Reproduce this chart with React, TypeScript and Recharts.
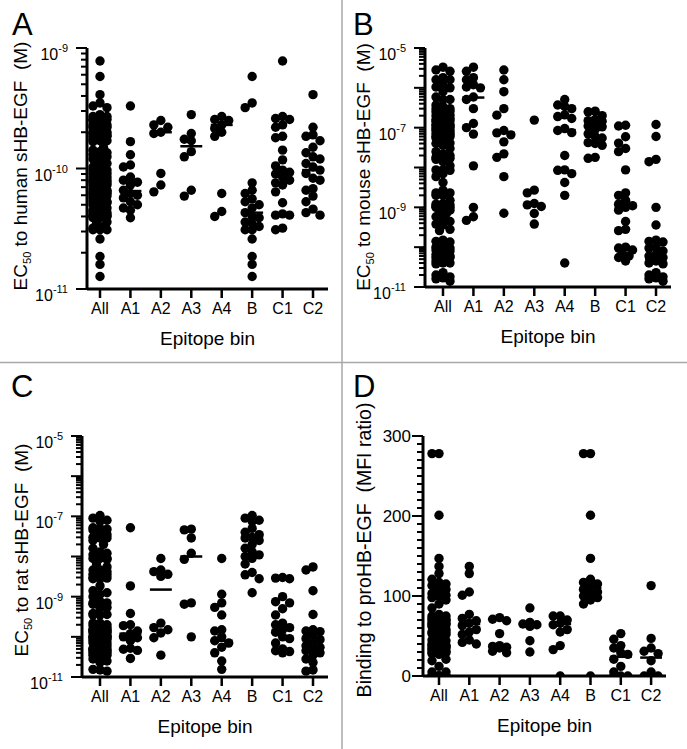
import React from 'react';
import { ScatterChart, Scatter, XAxis, YAxis, ReferenceLine } from 'recharts';

const FONT = '"Liberation Sans", Arial, Helvetica, sans-serif';

const categories = ['All', 'A1', 'A2', 'A3', 'A4', 'B', 'C1', 'C2'];

// ---------- Panel A: EC50 to human sHB-EGF (M) ----------
const humanA1 = [3.3e-10, 1.67e-10, 1.3e-10, 1.07e-10, 1.03e-10, 8.5e-11, 8.0e-11, 7.7e-11, 7.3e-11, 6.6e-11, 6.2e-11, 6.0e-11, 5.7e-11, 5.3e-11, 5.0e-11, 4.7e-11, 4.5e-11, 3.9e-11];
const humanA2 = [2.5e-10, 2.3e-10, 2.2e-10, 2.0e-10, 1.95e-10, 9.1e-11, 7.3e-11, 6.4e-11];
const humanA3 = [2.8e-10, 1.95e-10, 1.75e-10, 1.7e-10, 1.38e-10, 1.25e-10, 6.6e-11, 5.9e-11];
const humanA4 = [2.7e-10, 2.55e-10, 2.5e-10, 2.3e-10, 2.15e-10, 2.0e-10, 1.85e-10, 6.2e-11, 4.4e-11, 4.0e-11];
const humanB = [5.8e-10, 3.5e-10, 3.2e-10, 7.6e-11, 6.6e-11, 6.2e-11, 5.6e-11, 5.3e-11, 5.0e-11, 4.7e-11, 4.3e-11, 4.0e-11, 3.9e-11, 3.6e-11, 3.5e-11, 3.3e-11, 3.1e-11, 3.1e-11, 2.6e-11, 1.86e-11, 1.6e-11, 1.27e-11];
const humanC1 = [7.8e-10, 2.7e-10, 2.6e-10, 2.55e-10, 2.3e-10, 2.2e-10, 1.85e-10, 1.8e-10, 1.42e-10, 1.18e-10, 1.05e-10, 9.7e-11, 9.3e-11, 9.0e-11, 8.5e-11, 8.0e-11, 7.6e-11, 7.3e-11, 6.4e-11, 5.2e-11, 4.2e-11, 4.1e-11, 4.1e-11, 3.2e-11, 3.1e-11];
const humanC2 = [4.1e-10, 2.2e-10, 1.9e-10, 1.85e-10, 1.7e-10, 1.5e-10, 1.35e-10, 1.25e-10, 1.2e-10, 1.1e-10, 1.03e-10, 9.7e-11, 9.1e-11, 8.3e-11, 8.0e-11, 6.8e-11, 6.6e-11, 5.9e-11, 5.3e-11, 4.6e-11, 4.3e-11, 4.1e-11];
const humanMedians = [9.8e-11, 6.5e-11, 2.0e-10, 1.53e-10, 2.3e-10, 4.3e-11, 9.0e-11, 9.7e-11];

// ---------- Panel B: EC50 to mouse sHB-EGF (M) ----------
const mouseA1 = [3.3e-6, 2.6e-6, 1.8e-6, 1.6e-6, 1.2e-6, 1.05e-6, 1.0e-6, 5.9e-7, 5.1e-7, 3.0e-7, 1.27e-7, 1.0e-7, 6.9e-8, 1.1e-8, 1.0e-9, 5.8e-10, 4.7e-10];
const mouseA2 = [2.8e-6, 1.6e-6, 8e-7, 3.0e-7, 2.06e-7, 8.5e-8, 7.4e-8, 6.6e-8, 4.4e-8, 2.2e-8, 1.8e-8, 5.9e-9, 7.1e-10];
const mouseA3 = [1.55e-7, 2.7e-9, 2.3e-9, 1.25e-9, 1.15e-9, 1.05e-9, 7e-10, 3.8e-10];
const mouseA4 = [5.1e-7, 3.7e-7, 3.4e-7, 3.0e-7, 2.1e-7, 1.9e-7, 1.7e-7, 9.5e-8, 8.5e-8, 7.5e-8, 2.0e-8, 8.7e-9, 8.5e-9, 7e-9, 4.2e-9, 2.0e-9, 4e-11];
const mouseB = [2.6e-7, 2.5e-7, 2.0e-7, 1.6e-7, 1.5e-7, 1.45e-7, 1.2e-7, 1.1e-7, 1.05e-7, 9e-8, 7e-8, 6e-8, 5.5e-8, 4.2e-8, 4e-8, 3.6e-8, 1.8e-8, 1.7e-8];
const mouseC1 = [1.15e-7, 1.1e-7, 5.9e-8, 4.1e-8, 3.0e-8, 2.5e-8, 8.7e-9, 2.3e-9, 2.0e-9, 1.5e-9, 1.2e-9, 1.1e-9, 1.0e-9, 8.5e-10, 4.4e-10, 2.8e-10, 2.6e-10, 1.0e-10, 9.5e-11, 8.5e-11, 7e-11, 6e-11, 5.5e-11, 4.5e-11];
const mouseC2 = [1.2e-7, 6e-8, 1.6e-8, 1.4e-8, 1.0e-9, 3.6e-10, 1.5e-10, 1.4e-10, 1.35e-10, 1.0e-10, 9.5e-11, 8e-11, 6.5e-11, 6e-11, 5.5e-11, 4.5e-11, 4e-11, 3.8e-11, 2.3e-11, 2e-11, 1.8e-11, 1.7e-11, 1.6e-11, 1.4e-11];
const mouseMedians = [2e-8, 5.7e-7, 7.4e-8, 1.1e-9, 8.7e-8, 1.1e-7, 1.0e-9, 5e-11];

// ---------- Panel C: EC50 to rat sHB-EGF (M) ----------
const ratA1 = [5.2e-8, 1.85e-9, 3.8e-10, 2.0e-10, 1.9e-10, 1.4e-10, 1.2e-10, 1.0e-10, 9.5e-11, 8e-11, 5.2e-11, 4.9e-11, 4.6e-11, 2.9e-11];
const ratA2 = [8.9e-9, 4.6e-9, 4.2e-9, 3.6e-9, 3.2e-9, 2.2e-10, 1.7e-10, 1.5e-10, 1.25e-10, 9.5e-11, 3.5e-11];
const ratA3 = [4.8e-8, 4.6e-8, 2.9e-8, 1.2e-8, 8.5e-9, 7e-10, 6.5e-10, 1e-10];
const ratA4 = [8.9e-9, 1.15e-9, 7e-10, 5.4e-10, 3.5e-10, 1.5e-10, 1.4e-10, 1.0e-10, 8e-11, 7e-11, 5.5e-11, 4e-11, 2.5e-11, 1.55e-11];
const ratB = [1.05e-7, 9e-8, 8e-8, 7.5e-8, 5e-8, 4e-8, 3.5e-8, 3e-8, 2.9e-8, 2.5e-8, 2e-8, 1.6e-8, 1.3e-8, 1.1e-8, 1e-8, 9e-9, 6.5e-9, 4e-9, 3.5e-9, 2.8e-9, 1.25e-9];
const ratC1 = [3e-9, 2.9e-9, 2.8e-9, 1e-9, 7.5e-10, 7e-10, 5e-10, 3.5e-10, 2.2e-10, 2e-10, 1.7e-10, 1.5e-10, 1.3e-10, 1e-10, 9e-11, 7e-11, 5e-11, 4.5e-11, 4.3e-11, 4e-11];
const ratC2 = [5.5e-9, 4.6e-9, 1.4e-9, 3.6e-10, 1.5e-10, 1.4e-10, 1.35e-10, 1.1e-10, 9e-11, 8.5e-11, 7e-11, 6e-11, 5.5e-11, 5e-11, 4.5e-11, 4e-11, 3.5e-11, 2.8e-11, 2.3e-11, 1.5e-11, 1.4e-11];
const ratMedians = [1.5e-10, 1.2e-10, 1.5e-9, 1.0e-8, 8e-11, 2.9e-8, 1.5e-10, 5.6e-11];

// ---------- Panel D: Binding to proHB-EGF (MFI ratio) ----------
const proA1 = [137, 128, 105, 101, 77, 72, 69, 66, 63, 58, 55, 52, 45, 42, 40];
const proA2 = [73, 71, 69, 53, 38, 37, 36, 35, 31, 29];
const proA3 = [85, 67, 65, 64, 62, 44, 30];
const proA4 = [75, 75, 70, 66, 64, 58, 55, 38, 33, 0];
const proB = [278, 278, 201, 147, 121, 117, 115, 112, 108, 105, 103, 100, 98, 95, 90, 0];
const proC1 = [53, 46, 38, 35, 29, 27, 21, 12, 5, 0, 0, 0];
const proC2 = [113, 47, 35, 31, 28, 19, 5, 0, 0, 0];
const proMedians = [60, 65, 38, 64, 65, 110, 24, 23];

// ---------- layout helpers ----------
const dec = (e: number) => Number(`1e${e}`);

function logTicks(minExp: number, maxExp: number): number[] {
  const t: number[] = [];
  for (let e = minExp; e < maxExp; e++) {
    for (let m = 1; m <= 9; m++) t.push(Number((m * dec(e)).toPrecision(6)));
  }
  t.push(dec(maxExp));
  return t;
}

function linTicks(max: number, step: number): number[] {
  const t: number[] = [];
  for (let v = 0; v <= max; v += step) t.push(v);
  return t;
}

type PanelCfg = {
  box: { left: number; top: number; w: number; h: number };
  plot: { left: number; right: number; top: number; bottom: number };
  firstCat: number;
  catStep: number;
  log: boolean;
  yDomain: [number, number];
  ticks: number[];
  isMajor: (v: number) => boolean;
  isLabeled: (v: number) => boolean;
  bins: number[][];
  medians: number[];
};

function isDecade(v: number) {
  const l = Math.log10(v);
  return Math.abs(l - Math.round(l)) < 1e-6;
}

// same mapping as the chart's y scale (domain -> plot pixels, page coordinates)
function makeToPx(cfg: PanelCfg) {
  const [yMin, yMax] = cfg.yDomain;
  const { plot } = cfg;
  const h = plot.bottom - plot.top;
  return (v: number) =>
    cfg.log
      ? plot.top + ((Math.log10(yMax) - Math.log10(v)) / (Math.log10(yMax) - Math.log10(yMin))) * h
      : plot.top + ((yMax - v) / (yMax - yMin)) * h;
}

const R = 4.7;
const OFFSETS = [0, -7, 7, -3.5, 3.5];

function swarm(values: number[], toPx: (v: number) => number): number[] {
  const idx = values.map((_, i) => i).sort((a, b) => toPx(values[a]) - toPx(values[b]));
  const placed: { x: number; y: number }[] = [];
  const dx = new Array(values.length).fill(0);
  const minD = 7;
  for (const i of idx) {
    const y = toPx(values[i]);
    let best = OFFSETS[0];
    let bestPen = Infinity;
    for (const o of OFFSETS) {
      let pen = 0;
      for (const p of placed) {
        const d = Math.hypot(p.x - o, p.y - y);
        if (d < minD) pen += minD - d;
      }
      if (pen === 0) {
        best = o;
        bestPen = 0;
        break;
      }
      if (pen < bestPen - 1e-9) {
        bestPen = pen;
        best = o;
      }
    }
    dx[i] = best;
    placed.push({ x: best, y });
  }
  return dx;
}

const Dot = (props: any) => {
  const { cx, cy, payload } = props;
  if (cx == null || cy == null) return null;
  return <circle cx={cx + (payload?.dx || 0)} cy={cy} r={R} fill="#000" />;
};

const XTick = (props: any) => {
  const x = Number(props.x);
  const y = Number(props.y);
  const { payload } = props;
  return (
    <text x={x} y={y + 25} textAnchor="middle" fontSize={16} fill="#000" fontFamily={FONT}>
      {categories[payload.value]}
    </text>
  );
};

const CATS = [0, 1, 2, 3, 4, 5, 6, 7];

function Panel({ cfg }: { cfg: PanelCfg }) {
  const { box, plot } = cfg;
  const toPx = makeToPx(cfg);

  const columns = [cfg.bins.flat(), ...cfg.bins];
  const rows: { x: number; y: number; dx: number }[] = [];
  columns.forEach((vals, ci) => {
    const dx = swarm(vals, toPx);
    vals.forEach((v, i) => rows.push({ x: ci, y: v, dx: dx[i] }));
  });

  const xMin = (plot.left - cfg.firstCat) / cfg.catStep;
  const xMax = (plot.right - cfg.firstCat) / cfg.catStep;
  const xAxisH = 60;
  const yAxisW = plot.left - box.left;
  const margin = {
    top: plot.top - box.top,
    right: box.left + box.w - plot.right,
    bottom: box.top + box.h - plot.bottom - xAxisH,
    left: 0,
  };

  const YTick = (props: any) => {
    const x = Number(props.x);
    const y = Number(props.y);
    const v = props.payload.value;
    if (!cfg.isLabeled(v)) return <g />;
    if (cfg.log) {
      const e = Math.round(Math.log10(v));
      return (
        <text x={x - 19} y={y + 12} textAnchor="end" fontSize={16} fill="#000" fontFamily={FONT}>
          10
          <tspan dy={-8} fontSize={11}>{String(e)}</tspan>
        </text>
      );
    }
    return (
      <text x={x - 12} y={y + 6} textAnchor="end" fontSize={17} fill="#000" fontFamily={FONT}>
        {String(v)}
      </text>
    );
  };

  const axisStyle = { stroke: '#000', strokeWidth: 3 };

  return (
    <div style={{ position: 'absolute', left: box.left, top: box.top, width: box.w, height: box.h }}>
      <ScatterChart width={box.w} height={box.h} margin={margin} style={{ fontFamily: FONT }}>
        <XAxis
          type="number"
          dataKey="x"
          domain={[xMin, xMax]}
          allowDataOverflow
          ticks={CATS}
          interval={0}
          height={xAxisH}
          tickSize={0}
          tickMargin={0}
          tickLine={false}
          axisLine={axisStyle}
          tick={(p: any) => <XTick {...p} />}
          label={{ value: 'Epitope bin', position: 'insideBottom', offset: 4, fontSize: 19, fill: '#000' }}
        />
        <YAxis
          type="number"
          dataKey="y"
          scale={cfg.log ? 'log' : 'linear'}
          domain={cfg.yDomain}
          allowDataOverflow
          ticks={cfg.ticks}
          interval={0}
          width={yAxisW}
          tickSize={0}
          tickMargin={0}
          tickLine={false}
          axisLine={axisStyle}
          tick={(p: any) => <YTick {...p} />}
        />
        <Scatter data={rows} shape={Dot} isAnimationActive={false} />
        {cfg.medians.map((m, i) => (
          <ReferenceLine
            key={`m${i}`}
            segment={[
              { x: i - 0.36, y: m },
              { x: i + 0.36, y: m },
            ]}
            stroke="#000"
            strokeWidth={2.5}
          />
        ))}
      </ScatterChart>
    </div>
  );
}

// tick marks of both axes, positioned with the same scale mapping as the chart
function TickMarks({ cfg }: { cfg: PanelCfg }) {
  const toPx = makeToPx(cfg);
  const { plot } = cfg;
  return (
    <g>
      {cfg.ticks.map((t) => {
        const len = cfg.isMajor(t) ? 11 : 6;
        const y = toPx(t);
        return <rect key={`y${t}`} x={plot.left - len} y={y - 1} width={len} height={2} fill="#000" />;
      })}
      {CATS.map((c) => {
        const x = cfg.firstCat + c * cfg.catStep;
        return <rect key={`x${c}`} x={x - 1.25} y={plot.bottom} width={2.5} height={9} fill="#000" />;
      })}
    </g>
  );
}

const panelA: PanelCfg = {
  box: { left: 0, top: 0, w: 342, h: 362 },
  plot: { left: 87, right: 328, top: 48, bottom: 289 },
  firstCat: 100,
  catStep: 30.43,
  log: true,
  yDomain: [dec(-11), dec(-9)],
  ticks: logTicks(-11, -9),
  isMajor: isDecade,
  isLabeled: (v) => isDecade(v),
  bins: [humanA1, humanA2, humanA3, humanA4, humanB, humanC1, humanC2],
  medians: humanMedians,
};

const oddDecade = (v: number) => isDecade(v) && Math.abs(Math.round(Math.log10(v))) % 2 === 1;

const panelB: PanelCfg = {
  box: { left: 342, top: 0, w: 345, h: 362 },
  plot: { left: 425, right: 671, top: 48, bottom: 287 },
  firstCat: 443,
  catStep: 30.43,
  log: true,
  yDomain: [dec(-11), dec(-5)],
  ticks: logTicks(-11, -5),
  isMajor: isDecade,
  isLabeled: oddDecade,
  bins: [mouseA1, mouseA2, mouseA3, mouseA4, mouseB, mouseC1, mouseC2],
  medians: mouseMedians,
};

const panelC: PanelCfg = {
  box: { left: 0, top: 362, w: 342, h: 387 },
  plot: { left: 82, right: 328, top: 436, bottom: 677 },
  firstCat: 100,
  catStep: 30.43,
  log: true,
  yDomain: [dec(-11), dec(-5)],
  ticks: logTicks(-11, -5),
  isMajor: isDecade,
  isLabeled: oddDecade,
  bins: [ratA1, ratA2, ratA3, ratA4, ratB, ratC1, ratC2],
  medians: ratMedians,
};

const panelD: PanelCfg = {
  box: { left: 342, top: 362, w: 345, h: 387 },
  plot: { left: 423, right: 666, top: 436, bottom: 676 },
  firstCat: 439,
  catStep: 30.3,
  log: false,
  yDomain: [0, 300],
  ticks: linTicks(300, 10),
  isMajor: (v) => v % 100 === 0,
  isLabeled: (v) => v % 100 === 0,
  bins: [proA1, proA2, proA3, proA4, proB, proC1, proC2],
  medians: proMedians,
};

const PANELS = [panelA, panelB, panelC, panelD];

function YTitle({ x, cy, parts, size }: { x: number; cy: number; parts: [string, string, string]; size: number }) {
  return (
    <text
      transform={`translate(${x},${cy}) rotate(-90)`}
      textAnchor="middle"
      fontSize={size}
      fill="#000"
      fontFamily={FONT}
      style={{ whiteSpace: 'pre' }}
    >
      {parts[0]}
      {parts[1] ? (
        <tspan dy={4} fontSize={11}>
          {parts[1]}
        </tspan>
      ) : null}
      <tspan dy={parts[1] ? -4 : 0}>{parts[2]}</tspan>
    </text>
  );
}

export default function App() {
  return (
    <div style={{ position: 'absolute', left: 0, top: 0, width: 687, height: 749, background: '#fff', fontFamily: FONT }}>
      {PANELS.map((p, i) => (
        <Panel key={i} cfg={p} />
      ))}
      <svg width={687} height={749} style={{ position: 'absolute', left: 0, top: 0, pointerEvents: 'none' }}>
        <line x1={342} y1={0} x2={342} y2={749} stroke="#a9a9a9" strokeWidth={1.5} />
        <line x1={0} y1={362.5} x2={687} y2={362.5} stroke="#a9a9a9" strokeWidth={1.5} />
        {PANELS.map((p, i) => (
          <TickMarks key={i} cfg={p} />
        ))}
        <text x={12} y={35} fontSize={31} fill="#000" fontFamily={FONT}>A</text>
        <text x={353} y={35} fontSize={31} fill="#000" fontFamily={FONT}>B</text>
        <text x={11} y={397} fontSize={31} fill="#000" fontFamily={FONT}>C</text>
        <text x={353} y={397} fontSize={31} fill="#000" fontFamily={FONT}>D</text>
        <YTitle x={27} cy={166} size={19} parts={['EC', '50', ' to human sHB-EGF  (M)']} />
        <YTitle x={370} cy={167} size={19} parts={['EC', '50', ' to mouse sHB-EGF  (M)']} />
        <YTitle x={28} cy={550} size={19} parts={['EC', '50', ' to rat sHB-EGF  (M)']} />
        <YTitle x={371} cy={550} size={19.5} parts={['Binding to proHB-EGF  (MFI ratio)', '', '']} />
      </svg>
    </div>
  );
}
